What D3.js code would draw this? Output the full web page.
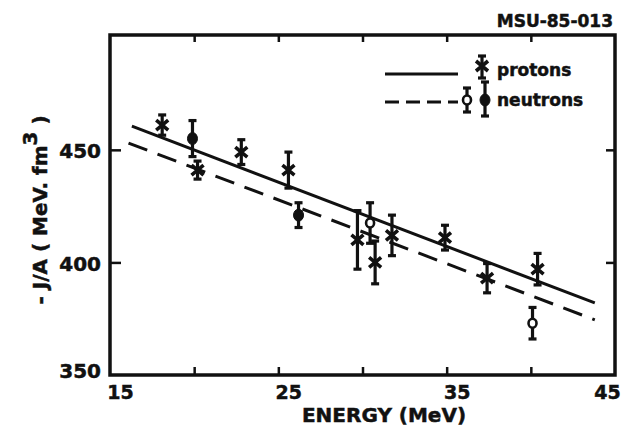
<!DOCTYPE html>
<html>
<head>
<meta charset="utf-8">
<script src="https://cdn.jsdelivr.net/npm/d3@7"></script>
<style>
  body { margin: 0; background: #fff; }
  text { font-family: "DejaVu Sans", sans-serif; font-weight: bold; fill: #111; stroke: #111; stroke-width: 0.5px; }
</style>
</head>
<body>
<svg id="chart" width="626" height="432"></svg>
<script>
// protons (asterisk markers)
const protonEnergy = [18.1, 20.2, 22.8, 25.6, 29.7, 30.75, 31.75, 34.9, 37.4, 40.4];
const protonJ      = [461, 441, 449, 441, 410, 400, 412, 411, 393, 397];
const protonErr    = [4.5, 4, 5.5, 8, 13, 9.5, 9, 5.5, 6.5, 7];

// neutrons (filled and open circles)
const neutronEnergy = [19.9, 26.2, 30.45, 40.1];
const neutronJ      = [455, 421, 417.5, 373];
const neutronErr    = [8, 5.5, 9, 7];
const neutronOpen   = [false, false, true, true];

// fitted lines
const protonFitE  = [16.3, 43.8];
const protonFitJ  = [460.5, 382];
const neutronFitE = [16.1, 43.8];
const neutronFitJ = [453, 374.5];

// ticks
const xTicks  = [20, 25, 30, 35, 40];
const xLabels = [15, 25, 35, 45];
const yTicks  = [400, 450];
const yLabels = [350, 400, 450];

const INK = "#111";

const svg = d3.select("#chart");

const x = d3.scaleLinear().domain([15, 45]).range([110, 615]);
const y = d3.scaleLinear().domain([350, 501]).range([375, 35]);

// frame
svg.append("rect")
    .attr("x", x(15))
    .attr("y", y(501))
    .attr("width", x(45) - x(15))
    .attr("height", y(350) - y(501))
    .attr("fill", "none")
    .attr("stroke", INK)
    .attr("stroke-width", 3.5);

// inward ticks on all four sides
function tickStyle(g){
    g.select(".domain").remove();
    g.selectAll("line").attr("stroke", INK).attr("stroke-width", 2.5);
}
svg.append("g").attr("transform", `translate(0,${y(350)})`)
    .call(d3.axisBottom(x).tickValues(xTicks).tickSize(-8).tickFormat(""))
    .call(tickStyle);
svg.append("g").attr("transform", `translate(0,${y(501)})`)
    .call(d3.axisTop(x).tickValues(xTicks).tickSize(-7).tickFormat(""))
    .call(tickStyle);
svg.append("g").attr("transform", `translate(${x(15)},0)`)
    .call(d3.axisLeft(y).tickValues(yTicks).tickSize(-11).tickFormat(""))
    .call(tickStyle);
svg.append("g").attr("transform", `translate(${x(45)},0)`)
    .call(d3.axisRight(y).tickValues(yTicks).tickSize(-9).tickFormat(""))
    .call(tickStyle);

// tick labels
const yLab = svg.append("g").attr("transform", `translate(${x(15)},0)`)
    .call(d3.axisLeft(y).tickValues(yLabels).tickSize(0).tickPadding(9));
yLab.select(".domain").remove();
yLab.selectAll("text")
    .attr("font-family", "DejaVu Sans")
    .attr("font-size", 20)
    .attr("font-weight", "bold")
    .attr("dy", d => d === 350 ? "0.1em" : "0.38em");

const xLab = svg.append("g").attr("transform", `translate(0,${y(350)})`)
    .call(d3.axisBottom(x).tickValues(xLabels).tickSize(0).tickPadding(11));
xLab.select(".domain").remove();
xLab.selectAll("text")
    .attr("font-family", "DejaVu Sans")
    .attr("font-size", 19)
    .attr("font-weight", "bold")
    .attr("dx", d => d === 45 ? -8 : 10);

// axis titles
svg.append("text")
    .attr("x", 384)
    .attr("y", 422)
    .attr("text-anchor", "middle")
    .attr("font-size", 20)
    .text("ENERGY (MeV)");

const yTitle = svg.append("text")
    .attr("transform", "translate(47,210) rotate(-90)")
    .attr("text-anchor", "middle")
    .attr("font-size", 20);
yTitle.append("tspan").text("- J/A ( MeV. fm");
yTitle.append("tspan").attr("dy", -10).text("3");
yTitle.append("tspan").attr("dy", 10).text(" )");

svg.append("text")
    .attr("x", 613)
    .attr("y", 27)
    .attr("text-anchor", "end")
    .attr("font-size", 17)
    .text("MSU-85-013");

// fitted lines
const line = d3.line().x(d => x(d[0])).y(d => y(d[1]));
svg.append("path")
    .attr("d", line(d3.zip(protonFitE, protonFitJ)))
    .attr("fill", "none")
    .attr("stroke", INK)
    .attr("stroke-width", 3);
svg.append("path")
    .attr("d", line(d3.zip(neutronFitE, neutronFitJ)))
    .attr("fill", "none")
    .attr("stroke", INK)
    .attr("stroke-width", 3)
    .attr("stroke-dasharray", "20,11");

// error bar helper
function errorBar(g, cx, yTop, yBot){
    g.append("line").attr("x1", cx).attr("x2", cx).attr("y1", yTop).attr("y2", yBot)
        .attr("stroke", INK).attr("stroke-width", 3.2);
    [yTop, yBot].forEach(yy => {
        g.append("line").attr("x1", cx - 4).attr("x2", cx + 4).attr("y1", yy).attr("y2", yy)
            .attr("stroke", INK).attr("stroke-width", 3.2);
    });
}
function asterisk(g, cx, cy){
    g.append("path")
        .attr("d", `M${cx - 6},${cy - 5}L${cx + 6},${cy + 5}M${cx - 6},${cy + 5}L${cx + 6},${cy - 5}`)
        .attr("stroke", INK).attr("stroke-width", 3.6);
}
function circle(g, cx, cy, open){
    g.append("ellipse")
        .attr("cx", cx).attr("cy", cy)
        .attr("rx", open ? 4 : 5).attr("ry", open ? 4.5 : 6)
        .attr("fill", open ? "#fff" : INK)
        .attr("stroke", INK)
        .attr("stroke-width", open ? 2.6 : 1);
}

// neutron points
const neutrons = svg.append("g");
neutronEnergy.forEach((e, i) => {
    const g = neutrons.append("g");
    errorBar(g, x(e), y(neutronJ[i] + neutronErr[i]), y(neutronJ[i] - neutronErr[i]));
    circle(g, x(e), y(neutronJ[i]), neutronOpen[i]);
});

// proton points
const protons = svg.append("g");
protonEnergy.forEach((e, i) => {
    const g = protons.append("g");
    errorBar(g, x(e), y(protonJ[i] + protonErr[i]), y(protonJ[i] - protonErr[i]));
    asterisk(g, x(e), y(protonJ[i]));
});

// legend
const legend = svg.append("g");
legend.append("line").attr("x1", 385).attr("x2", 458).attr("y1", 74).attr("y2", 74)
    .attr("stroke", INK).attr("stroke-width", 3);
errorBar(legend, 482, 56, 78);
asterisk(legend, 482, 66);
legend.append("text").attr("x", 497).attr("y", 76).attr("font-size", 17).text("protons");

legend.append("line").attr("x1", 385).attr("x2", 458).attr("y1", 102).attr("y2", 102)
    .attr("stroke", INK).attr("stroke-width", 3).attr("stroke-dasharray", "14,7");
errorBar(legend, 467, 88, 112);
circle(legend, 467, 100, true);
errorBar(legend, 485, 82, 116);
circle(legend, 485, 100, false);
legend.append("text").attr("x", 497).attr("y", 106).attr("font-size", 17).text("neutrons");
</script>
</body>
</html>
